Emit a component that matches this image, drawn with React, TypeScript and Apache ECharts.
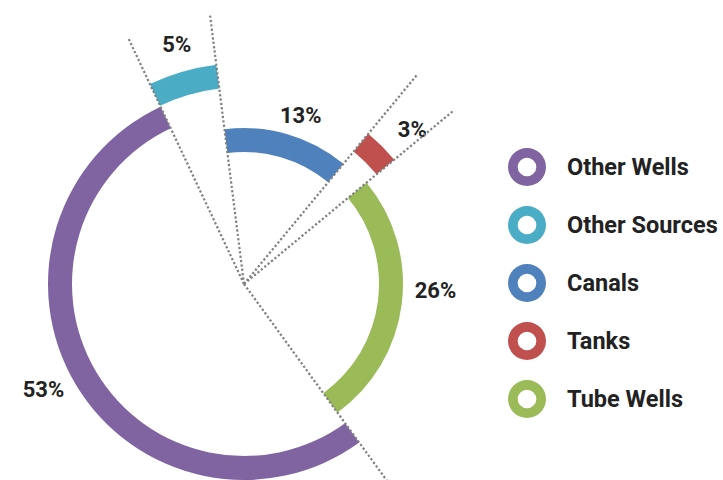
import React, { useEffect, useRef } from 'react';
import * as echarts from 'echarts';

// ---- data ----
const categories = ['Other Wells', 'Other Sources', 'Canals', 'Tanks', 'Tube Wells'];
const shares = [53, 5, 13, 3, 26];
const colors = ['#8064A2', '#4BACC6', '#4F81BD', '#C0504D', '#9BBB59'];

// ---- layout / style (not data) ----
const ringRadii = [[172, 196], [197, 221], [132, 156], [172, 195], [135, 159]];
const labelGap = [30, 27, 22, 33, 32];
const labelNudge = [[-6, -10], [2, -1], [7, 2], [7, 7], [2, -17]];
const CENTER = [244, 284];
const START_ANGLE = 306;
const LINE_RADIUS = 272;
const RING_ICON =
  'path://M20,0A20,20 0 1,1 -20,0A20,20 0 1,1 20,0ZM9.8,0A9.8,9.8 0 1,0 -9.8,0A9.8,9.8 0 1,0 9.8,0Z';
const FONT = 'Roboto, "Noto Sans", sans-serif';

export default function App() {
  const ref = useRef<HTMLDivElement>(null);

  useEffect(() => {
    if (!ref.current) return;
    const chart = echarts.init(ref.current, null, { renderer: 'svg' });

    const total = shares.reduce((a, b) => a + b, 0);
    // boundaries between slices (cumulative values)
    const boundaries: number[] = [];
    let acc = 0;
    shares.forEach((v) => {
      boundaries.push(acc);
      acc += v;
    });

    const pieSeries = categories.map((name, i) => ({
      type: 'pie',
      name,
      center: CENTER,
      radius: ringRadii[i],
      startAngle: START_ANGLE,
      clockwise: true,
      avoidLabelOverlap: false,
      silent: true,
      emphasis: { disabled: true },
      z: 2,
      itemStyle: { borderWidth: 0 },
      label: {
        show: true,
        position: 'outside',
        formatter: '{c}%',
        fontSize: 22,
        fontWeight: 'bold',
        fontFamily: FONT,
        color: '#222222',
        distanceToLabelLine: 0,
      },
      labelLine: { show: false, length: labelGap[i], length2: 0 },
      labelLayout: (p: any) => {
        const r = p.labelRect;
        const ax =
          p.align === 'left' ? r.x : p.align === 'right' ? r.x + r.width : r.x + r.width / 2;
        const ay = r.y + r.height / 2;
        return {
          x: ax + labelNudge[i][0],
          y: ay + labelNudge[i][1],
          align: 'center',
          verticalAlign: 'middle',
        };
      },
      data: categories.map((n, j) =>
        j === i
          ? { name: n, value: shares[j], itemStyle: { color: colors[j] } }
          : {
              name: n,
              value: shares[j],
              itemStyle: { color: 'rgba(0,0,0,0)' },
              label: { show: false },
            }
      ),
    }));

    const lineSeries = boundaries.map((b) => ({
      type: 'line',
      coordinateSystem: 'polar',
      symbol: 'none',
      silent: true,
      z: 5,
      lineStyle: { color: '#7f7f7f', width: 2.2, type: 'dotted' },
      data: [
        [0, b],
        [1, b],
      ],
    }));

    chart.setOption({
      animation: false,
      backgroundColor: '#ffffff',
      polar: { center: CENTER, radius: LINE_RADIUS },
      angleAxis: {
        type: 'value',
        min: 0,
        max: total,
        startAngle: START_ANGLE,
        clockwise: true,
        show: false,
      },
      radiusAxis: { type: 'value', min: 0, max: 1, show: false },
      legend: {
        orient: 'vertical',
        left: 503,
        top: 143,
        itemWidth: 38,
        itemHeight: 38,
        itemGap: 20,
        selectedMode: false,
        icon: RING_ICON,
        textStyle: {
          fontFamily: FONT,
          fontWeight: 'bold',
          fontSize: 23.5,
          color: '#222222',
          padding: [0, 0, 0, 16],
        },
        data: categories.map((n, i) => ({
          name: n,
          itemStyle: { color: colors[i], borderWidth: 0 },
        })),
      },
      series: [...pieSeries, ...lineSeries],
    });

    return () => chart.dispose();
  }, []);

  return (
    <div
      ref={ref}
      style={{ position: 'absolute', left: 0, top: 0, width: 723, height: 480 }}
    />
  );
}
